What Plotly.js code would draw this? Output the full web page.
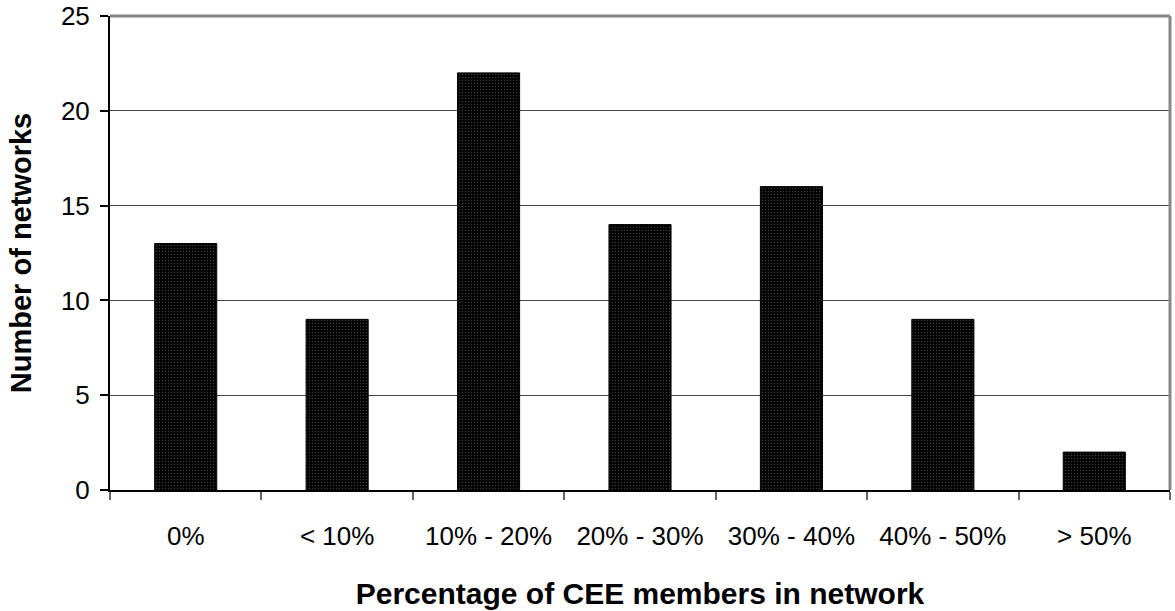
<!DOCTYPE html>
<html>
<head>
<meta charset="utf-8">
<script src="https://cdn.plot.ly/plotly-3.0.1.min.js"></script>
<style>html,body{margin:0;padding:0;background:#fff;}#chart{width:1175px;height:611px;}</style>
</head>
<body>
<div id="chart"></div>
<script>
const categories = ["0%", "< 10%", "10% - 20%", "20% - 30%", "30% - 40%", "40% - 50%", "> 50%"];
const networkCounts = [13, 9, 22, 14, 16, 9, 2];
const yTickValues = [0, 5, 10, 15, 20, 25];

const trace = {
  type: 'bar',
  x: categories,
  y: networkCounts,
  marker: {
    color: '#000',
    line: {color: '#000', width: 1},
    pattern: {shape: '.', bgcolor: '#000', fgcolor: '#3a3a3a', size: 3, solidity: 0.2}
  },
  hoverinfo: 'skip'
};

const layout = {
  width: 1175, height: 611,
  margin: {l: 110, r: 5, t: 16, b: 121},
  paper_bgcolor: '#fff', plot_bgcolor: '#fff',
  font: {family: 'Arial, Liberation Sans, sans-serif', color: '#000'},
  bargap: 0.59,
  showlegend: false,
  xaxis: {
    type: 'category',
    tickson: 'boundaries',
    ticks: 'outside', ticklen: 8, tickcolor: '#666', tickwidth: 2,
    showline: true, linecolor: '#000', linewidth: 2,
    showgrid: false, zeroline: false,
    tickfont: {size: 26, family: 'Arial, Liberation Sans, sans-serif'},
    ticklabelstandoff: 22,
    title: {text: '<b>Percentage of CEE members in network</b>', font: {size: 30}, standoff: 33}
  },
  yaxis: {
    range: [0, 25],
    tickvals: yTickValues,
    ticks: 'outside', ticklen: 8, tickcolor: '#000', tickwidth: 2,
    showline: true, linecolor: '#000', linewidth: 2,
    showgrid: true, gridcolor: '#444', gridwidth: 1,
    zeroline: false,
    tickfont: {size: 26, family: 'Arial, Liberation Sans, sans-serif'},
    ticklabelstandoff: 5,
    title: {text: '<b>Number of networks</b>', font: {size: 29}, standoff: 21}
  },
  shapes: [
    {type: 'line', xref: 'paper', yref: 'paper', x0: 0, x1: 1, y0: 1, y1: 1, line: {color: '#888', width: 3}},
    {type: 'line', xref: 'paper', yref: 'paper', x0: 1, x1: 1, y0: 0, y1: 1, line: {color: '#888', width: 3}}
  ]
};

Plotly.newPlot('chart', [trace], layout, {displayModeBar: false, staticPlot: true});
</script>
</body>
</html>
